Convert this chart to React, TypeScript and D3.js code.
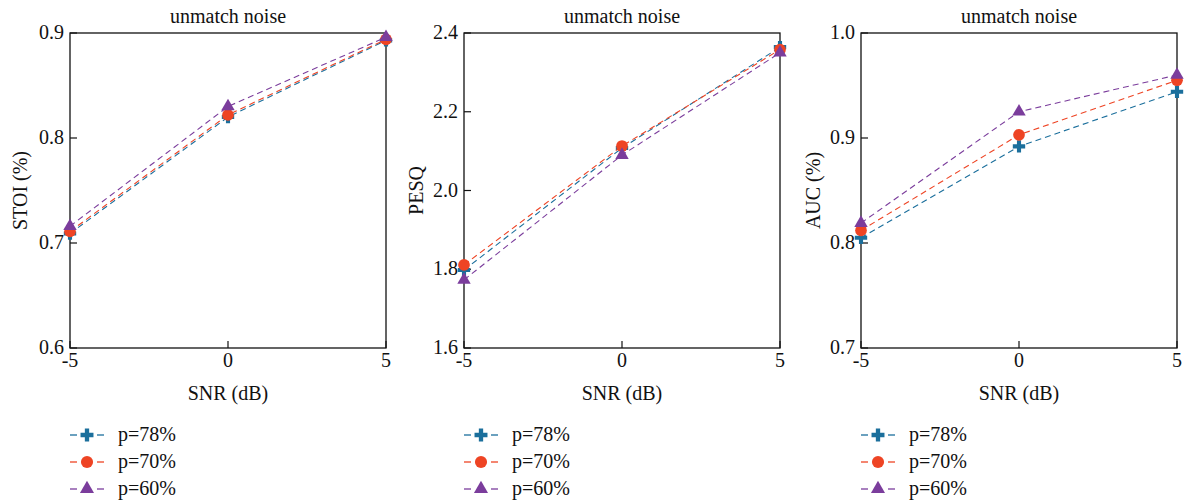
import * as d3 from "d3";
import React from "react";

const snr = [-5, 0, 5];
const seriesNames = ["p=78%", "p=70%", "p=60%"];
const colors = ["#1b6f9c", "#ee4424", "#7b3d9c"];
const symbols = [d3.symbolCross, d3.symbolCircle, d3.symbolTriangle];
const symbolSizes = [85, 108, 78];

const stoi78 = [0.709, 0.82, 0.893];
const stoi70 = [0.711, 0.822, 0.894];
const stoi60 = [0.716, 0.83, 0.896];

const pesq78 = [1.798, 2.108, 2.364];
const pesq70 = [1.811, 2.113, 2.358];
const pesq60 = [1.773, 2.09, 2.35];

const auc78 = [0.805, 0.892, 0.944];
const auc70 = [0.812, 0.903, 0.955];
const auc60 = [0.819, 0.925, 0.96];

const stoiTicks = [0.6, 0.7, 0.8, 0.9];
const pesqTicks = [1.6, 1.8, 2.0, 2.2, 2.4];
const aucTicks = [0.7, 0.8, 0.9, 1.0];
const xTicks = [-5, 0, 5];

const panels = [
  { left: 70, ylabel: "STOI (%)", labelX: 19, domain: [0.6, 0.9], ticks: stoiTicks, series: [stoi78, stoi70, stoi60] },
  { left: 464, ylabel: "PESQ", labelX: 415, domain: [1.6, 2.4], ticks: pesqTicks, series: [pesq78, pesq70, pesq60] },
  { left: 861, ylabel: "AUC (%)", labelX: 812, domain: [0.7, 1.0], ticks: aucTicks, series: [auc78, auc70, auc60] },
];

const plotW = 316;
const top = 33;
const bottom = 348;
const tx = { fontFamily: "Liberation Serif", fill: "#111" };
const fs = 20;

// one small panel: frame, inward ticks, dashed lines with markers, legend below
const Panel = ({ p }: { p: any }) => {
  const x = d3.scaleLinear().domain([-5, 5]).range([p.left, p.left + plotW]);
  const y = d3.scaleLinear().domain(p.domain).range([bottom, top]);
  const line = d3
    .line<number>()
    .x((_, i) => x(snr[i]))
    .y((d) => y(d));
  const fmt = d3.format(".1f");
  return (
    <g>
      <text x={p.left + plotW / 2} y={23} textAnchor="middle" fontSize={fs} style={tx}>
        unmatch noise
      </text>
      <rect x={p.left} y={top} width={plotW} height={bottom - top} fill="none" stroke="#111" strokeWidth={1.3} />
      {p.ticks.map((t: number) => (
        <g key={t}>
          <line x1={p.left} x2={p.left + 7} y1={y(t)} y2={y(t)} stroke="#111" strokeWidth={1.2} />
          <text x={p.left - 6} y={y(t) + 6} textAnchor="end" fontSize={fs} style={tx}>
            {fmt(t)}
          </text>
        </g>
      ))}
      {xTicks.map((t) => (
        <g key={t}>
          <line x1={x(t)} x2={x(t)} y1={bottom} y2={bottom - 7} stroke="#111" strokeWidth={1.2} />
          <text x={x(t)} y={bottom + 19} textAnchor="middle" fontSize={fs} style={tx}>
            {t}
          </text>
        </g>
      ))}
      <text x={p.left + plotW / 2} y={400} textAnchor="middle" fontSize={fs} style={tx}>
        SNR (dB)
      </text>
      <text
        transform={`translate(${p.labelX + 8},${(top + bottom) / 2}) rotate(-90)`}
        textAnchor="middle"
        fontSize={fs}
        style={tx}
      >
        {p.ylabel}
      </text>
      {p.series.map((s: number[], k: number) => (
        <g key={k}>
          <path d={line(s) || ""} fill="none" stroke={colors[k]} strokeWidth={1.1} strokeDasharray="6,4" />
          {s.map((v, i) => (
            <path
              key={i}
              transform={`translate(${x(snr[i])},${y(v)})`}
              d={d3.symbol().type(symbols[k]).size(symbolSizes[k])() || ""}
              fill={colors[k]}
            />
          ))}
        </g>
      ))}
      {seriesNames.map((name, k) => {
        const ly = 435 + k * 27;
        return (
          <g key={name}>
            <line x1={p.left} x2={p.left + 7} y1={ly} y2={ly} stroke={colors[k]} strokeWidth={1.3} />
            <line x1={p.left + 27} x2={p.left + 34} y1={ly} y2={ly} stroke={colors[k]} strokeWidth={1.3} />
            <path
              transform={`translate(${p.left + 17},${ly})`}
              d={d3.symbol().type(symbols[k]).size(symbolSizes[k] + 8)() || ""}
              fill={colors[k]}
            />
            <text x={p.left + 48} y={ly + 6} fontSize={fs} style={tx}>
              {name}
            </text>
          </g>
        );
      })}
    </g>
  );
};

export default function App() {
  return (
    <svg width={1186} height={502} style={{ display: "block", position: "absolute", left: 0, top: 0, background: "white" }}>
      {panels.map((p) => (
        <Panel key={p.ylabel} p={p} />
      ))}
    </svg>
  );
}
